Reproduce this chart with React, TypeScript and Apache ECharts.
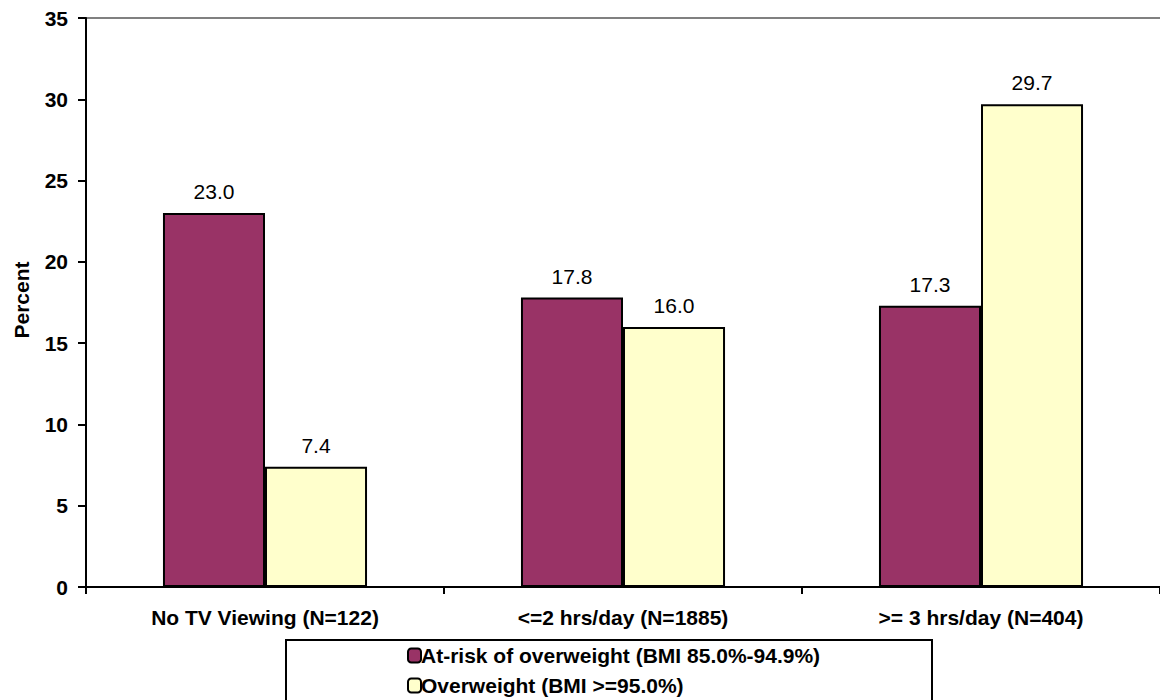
import React, { useEffect, useRef } from "react";
import * as echarts from "echarts";

const categories = ["No TV Viewing (N=122)", "<=2 hrs/day (N=1885)", ">= 3 hrs/day (N=404)"];
const atRisk = [23.0, 17.8, 17.3];
const overweight = [7.4, 16.0, 29.7];
const seriesNames = ["At-risk of overweight (BMI 85.0%-94.9%)", "Overweight (BMI >=95.0%)"];
const yTicks = [0, 5, 10, 15, 20, 25, 30, 35];

const FONT = "'Liberation Sans', Arial, sans-serif";
const FS = 21;

export default function App() {
  const ref = useRef<HTMLDivElement>(null);
  useEffect(() => {
    if (!ref.current) return;
    const chart = echarts.init(ref.current, null, { renderer: "svg" });
    const label = {
      show: true,
      position: "top" as const,
      distance: 11,
      color: "#000",
      fontFamily: FONT,
      fontSize: FS,
      formatter: (p: any) => Number(p.value).toFixed(1),
    };
    chart.setOption({
      animation: false,
      textStyle: { fontFamily: FONT },
      grid: { left: 86, top: 18, width: 1085, bottom: 113, containLabel: false },
      legend: {
        orient: "vertical",
        left: 407,
        top: 645,
        itemWidth: 13,
        itemHeight: 14,
        itemGap: 9,
        padding: 0,
        selectedMode: false,
        textStyle: { fontFamily: FONT, fontSize: FS, fontWeight: "bold", color: "#000", padding: [0, 0, 0, -5] },
        data: seriesNames.map((n) => ({ name: n, itemStyle: { borderColor: "#000", borderWidth: 2 } })),
      },
      graphic: [
        {
          type: "line",
          shape: { x1: 86, y1: 18, x2: 1160, y2: 18 },
          style: { stroke: "#808080", lineWidth: 2 },
          silent: true,
        },
        {
          type: "rect",
          shape: { x: 286, y: 640, width: 646, height: 80 },
          style: { fill: "none", stroke: "#000", lineWidth: 2 },
          silent: true,
          z: -1,
        },
        {
          type: "text",
          x: 21,
          y: 300,
          rotation: Math.PI / 2,
          style: {
            text: "Percent",
            fontFamily: FONT,
            fontSize: FS,
            fontWeight: "bold",
            fill: "#000",
            textAlign: "center",
            textVerticalAlign: "middle",
          },
          silent: true,
        },
      ],
      xAxis: {
        type: "category",
        data: categories,
        axisLine: { lineStyle: { color: "#000", width: 2 } },
        axisTick: { show: true, length: 7, lineStyle: { color: "#000", width: 2 } },
        axisLabel: { fontFamily: FONT, fontSize: FS, fontWeight: "bold", color: "#000", margin: 20 },
      },
      yAxis: {
        type: "value",
        min: 0,
        max: 35,
        interval: 5,
        axisLine: { show: true, lineStyle: { color: "#000", width: 2 } },
        axisTick: { show: true, length: 8, lineStyle: { color: "#000", width: 2 } },
        axisLabel: {
          fontFamily: FONT,
          fontSize: FS,
          fontWeight: "bold",
          color: "#000",
          margin: 18,
          formatter: (v: number) => (yTicks.includes(v) ? String(v) : ""),
        },
        splitLine: { show: false },
      },
      series: [
        {
          name: seriesNames[0],
          type: "bar",
          data: atRisk,
          barGap: "0%",
          barCategoryGap: "43%",
          itemStyle: { color: "#993366", borderColor: "#000", borderWidth: 2 },
          label,
        },
        {
          name: seriesNames[1],
          type: "bar",
          data: overweight,
          itemStyle: { color: "#FFFFCC", borderColor: "#000", borderWidth: 2 },
          label,
        },
      ],
    });
    return () => chart.dispose();
  }, []);
  return <div ref={ref} style={{ width: 1160, height: 700, position: "absolute", left: 0, top: 0 }} />;
}
